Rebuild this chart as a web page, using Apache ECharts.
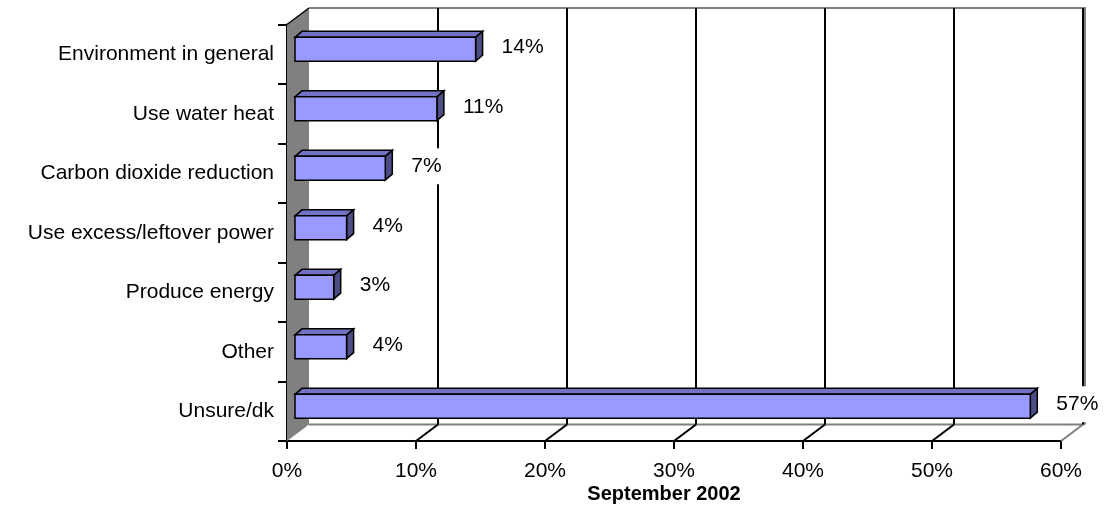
<!DOCTYPE html>
<html><head><meta charset="utf-8">
<script src="https://cdn.jsdelivr.net/npm/echarts@6/dist/echarts.min.js"></script>
<style>html,body{margin:0;padding:0;background:#fff}#c{width:1104px;height:529px}</style>
</head><body><div id="c"></div>
<script>
// ---- data ----
const categories = ['Environment in general','Use water heat','Carbon dioxide reduction','Use excess/leftover power','Produce energy','Other','Unsure/dk'];
const values = [14, 11, 7, 4, 3, 4, 57];
const valueLabels = ['14%','11%','7%','4%','3%','4%','57%'];
const xTicks = [0, 10, 20, 30, 40, 50, 60];
const axisTitle = 'September 2002';

// ---- styles ----
const FONT = '"Liberation Sans", Arial, sans-serif';
const DX = 22, DY = 16.5;          // wall depth
const BAR_OX = 8, BAR_OY = 5;      // bar front-face offset into depth
const BAR_DX = 7, BAR_DY = 6;      // bar depth
const BAR_FRAC = 0.4;

function renderFrame(params, api) {
  const cs = params.coordSys;
  const top = cs.y, bottom = cs.y + cs.height;
  const x0 = api.coord([xTicks[0], 0])[0];
  const xN = api.coord([xTicks[xTicks.length - 1], 0])[0];
  const ch = [];
  ch.push({type: 'polygon', shape: {points: [[x0, bottom], [x0, top], [x0 + DX, top - DY], [x0 + DX, bottom - DY]]},
    style: {fill: '#808080', stroke: null}});
  ch.push({type: 'line', shape: {x1: x0, y1: top, x2: x0 + DX, y2: top - DY}, style: {stroke: '#000', lineWidth: 1.5}});
  ch.push({type: 'polyline', shape: {points: [[x0 + DX, top - DY], [xN + DX + 2, top - DY], [xN + DX + 2, bottom - DY]]},
    style: {stroke: '#808080', lineWidth: 2, fill: null}});
  ch.push({type: 'polyline', shape: {points: [[x0 + DX, bottom - DY], [xN + DX, bottom - DY], [xN, bottom]]},
    style: {stroke: '#808080', lineWidth: 2, fill: null}});
  xTicks.forEach((t, i) => {
    if (i === 0) return;
    const fx = api.coord([t, 0])[0];
    if (i < xTicks.length - 1) {
      ch.push({type: 'line', shape: {x1: fx, y1: bottom, x2: fx + DX, y2: bottom - DY}, style: {stroke: '#000', lineWidth: 2}});
    }
    ch.push({type: 'line', shape: {x1: fx + DX, y1: bottom - DY, x2: fx + DX, y2: top - DY}, style: {stroke: '#000', lineWidth: 2}});
  });
  return {type: 'group', children: ch};
}

function renderBar(params, api) {
  const v = api.value(0), c = api.value(1);
  const p0 = api.coord([0, c]), p1 = api.coord([v, c]);
  const band = api.size([0, 1])[1];
  const h = band * BAR_FRAC;
  const x0 = p0[0] + BAR_OX, x1 = p1[0] + BAR_OX, yc = p0[1] - BAR_OY;
  const yt = yc - h / 2, yb = yc + h / 2;
  const st = {stroke: '#000', lineWidth: 1.5, lineJoin: 'miter'};
  return {type: 'group', children: [
    {type: 'polygon', shape: {points: [[x0, yt], [x0 + BAR_DX, yt - BAR_DY], [x1 + BAR_DX, yt - BAR_DY], [x1, yt]]},
      style: Object.assign({fill: '#7272c4'}, st)},
    {type: 'polygon', shape: {points: [[x1, yt], [x1 + BAR_DX, yt - BAR_DY], [x1 + BAR_DX, yb - BAR_DY], [x1, yb]]},
      style: Object.assign({fill: '#4d4d85'}, st)},
    {type: 'rect', shape: {x: x0, y: yt, width: x1 - x0, height: h},
      style: Object.assign({fill: '#9999ff'}, st)},
    {type: 'text', x: x1 + 26, y: yc - 2,
      style: {text: valueLabels[params.dataIndex], font: '21px ' + FONT, fill: '#000',
        align: 'left', verticalAlign: 'middle', backgroundColor: '#fff', padding: [12, 0, 3, 0]}}
  ]};
}

const chart = echarts.init(document.getElementById('c'));
chart.setOption({
  animation: false,
  backgroundColor: '#fff',
  grid: {left: 287, right: 43, top: 24.5, bottom: 88, containLabel: false},
  xAxis: {
    type: 'value', min: 0, max: 60, interval: 10,
    axisLine: {show: true, lineStyle: {color: '#000', width: 2}},
    axisTick: {show: true, length: 8, lineStyle: {color: '#000', width: 2}},
    axisLabel: {formatter: '{value}%', fontSize: 21, fontFamily: FONT, color: '#000', margin: 20},
    splitLine: {show: false}
  },
  yAxis: {
    type: 'category', data: categories, inverse: true,
    axisLine: {show: true, lineStyle: {color: '#000', width: 2}},
    axisTick: {show: true, length: 9, interval: 0, lineStyle: {color: '#000', width: 2}},
    axisLabel: {interval: 0, fontSize: 21, fontFamily: FONT, color: '#000', margin: 13},
    splitLine: {show: false}
  },
  graphic: [{type: 'text', x: 664, y: 494,
    style: {text: axisTitle, font: 'bold 20px ' + FONT, fill: '#000', align: 'center', verticalAlign: 'middle'}}],
  series: [
    {type: 'custom', renderItem: renderFrame, data: [[0, 0]], encode: {x: 0, y: 1}, z: 1, silent: true},
    {type: 'custom', renderItem: renderBar, data: values.map((v, i) => [v, i]), encode: {x: 0, y: 1}, z: 3}
  ]
});
</script></body></html>
